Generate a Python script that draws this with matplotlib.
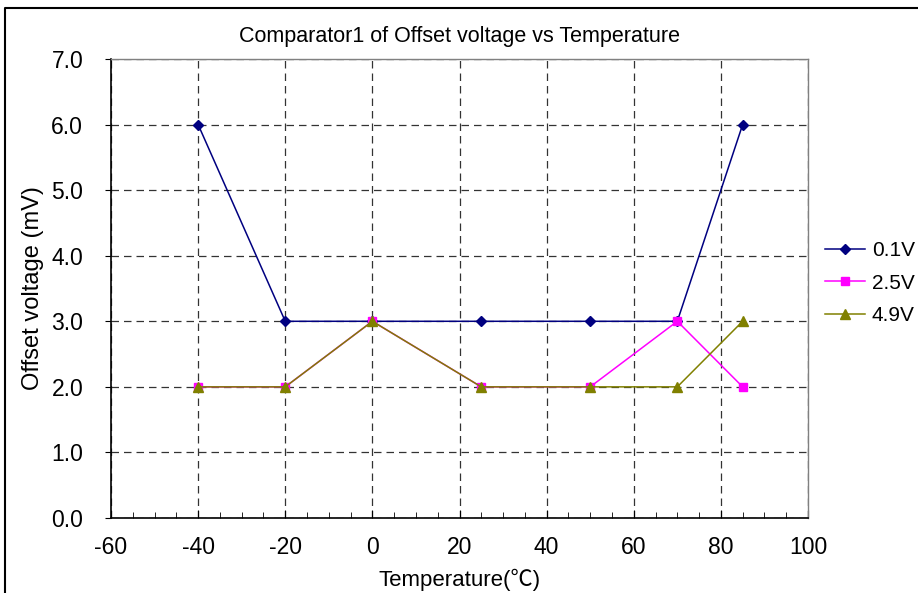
import matplotlib
matplotlib.use("Agg")
import matplotlib.pyplot as plt
from matplotlib.ticker import MultipleLocator, FormatStrFormatter
from matplotlib.lines import Line2D

plt.rcParams["font.family"] = ["Liberation Sans", "Noto Sans CJK SC", "DejaVu Sans"]
plt.rcParams["axes.unicode_minus"] = False

# data
temps = [-40, -20, 0, 25, 50, 70, 85]
v01 = [6, 3, 3, 3, 3, 3, 6]
v25 = [2, 2, 3, 2, 2, 3, 2]
v49 = [2, 2, 3, 2, 2, 2, 3]
series = [
    ("0.1V", v01, "#000080", "D", 5),
    ("2.5V", v25, "#FF00FF", "s", 5.5),
    ("4.9V", v49, "#808000", "^", 6.5),
]

fig = plt.figure(figsize=(9.18, 5.93), dpi=100)
ax = fig.add_axes([111 / 918, 75 / 593, 697 / 918, 459 / 593])

for label, vals, color, marker, ms in series:
    ax.plot(temps, vals, color=color, marker=marker, markersize=ms,
            linewidth=1.1, label=label, clip_on=False, zorder=3)

ax.set_xlim(-60, 100)
ax.set_ylim(0, 7)
ax.xaxis.set_major_locator(MultipleLocator(20))
ax.xaxis.set_minor_locator(MultipleLocator(5))
ax.yaxis.set_major_locator(MultipleLocator(1))
ax.yaxis.set_major_formatter(FormatStrFormatter("%.1f"))
ax.tick_params(axis="x", which="major", direction="in", length=6, labelsize=16.5, pad=13)
ax.tick_params(axis="x", which="minor", direction="in", length=4)
ax.tick_params(axis="y", which="major", direction="out", length=4, labelsize=16.5, pad=16)
ax.grid(True, which="major", color="#333333", linestyle=(0, (6, 4)), linewidth=0.9)

for side in ["top", "right"]:
    ax.spines[side].set_color("#808080")
    ax.spines[side].set_linewidth(1.0)
for side in ["left", "bottom"]:
    ax.spines[side].set_color("black")
    ax.spines[side].set_linewidth(1.2)

ax.set_title("Comparator1 of Offset voltage vs Temperature", fontsize=15.5, pad=12)
ax.set_xlabel("Temperature(\u2103)", fontsize=16, labelpad=7)
ax.set_ylabel("Offset voltage (mV)", fontsize=17, labelpad=5)

ax.legend(loc="center left", bbox_to_anchor=(825 / 918, 1 - 283 / 593),
          bbox_transform=fig.transFigure, frameon=False,
          fontsize=15, handlelength=1.9, handletextpad=0.35, labelspacing=0.65,
          borderaxespad=0, borderpad=0)

# outer chart border
fig.add_artist(Line2D([5 / 918, 5 / 918, 1.0], [0.0, 1 - 8 / 593, 1 - 8 / 593],
                      transform=fig.transFigure, color="black", linewidth=1.5))

fig.savefig("out.png", dpi=100)
